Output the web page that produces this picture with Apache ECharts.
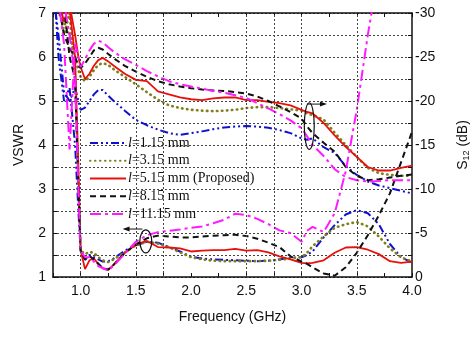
<!DOCTYPE html>
<html>
<head>
<meta charset="utf-8">
<script src="https://cdn.jsdelivr.net/npm/echarts@6/dist/echarts.min.js"></script>
<style>html,body{margin:0;padding:0;background:#fff;}#c{width:474px;height:345px;}</style>
</head>
<body>
<div id="c"></div>
<script>
// Frequency grid (GHz)
const freq = [0.75,0.8,0.85,0.9,0.95,0.98,1.0,1.04,1.08,1.12,1.16,1.2,1.25,1.3,1.4,1.5,1.6,1.7,1.8,1.9,2.0,2.1,2.2,2.3,2.4,2.5,2.6,2.7,2.8,2.9,3.0,3.05,3.1,3.2,3.3,3.4,3.5,3.6,3.7,3.8,3.9,4.0];

const names = ['l=1.15 mm','l=3.15 mm','l=5.15 mm (Proposed)','l=8.15 mm','l=11.15 mm'];

// VSWR (left axis)
const vswr115 = [8,6.0,5.0,5.3,4.0,2.5,1.6,1.39,1.5,1.45,1.4,1.35,1.36,1.42,1.6,1.72,1.8,1.78,1.68,1.58,1.46,1.42,1.4,1.39,1.38,1.37,1.36,1.37,1.4,1.44,1.45,1.5,1.58,1.9,2.18,2.42,2.52,2.45,2.2,1.75,1.45,1.33];
const vswr315 = [8,7.5,6.5,7.0,5.5,3.2,1.6,1.52,1.57,1.55,1.45,1.38,1.34,1.4,1.56,1.72,1.8,1.76,1.68,1.56,1.45,1.4,1.37,1.36,1.36,1.36,1.36,1.37,1.39,1.42,1.45,1.55,1.7,1.92,2.12,2.2,2.25,2.15,1.92,1.65,1.45,1.35];
const vswr515 = [8,7.5,7.3,7.1,6.0,3.5,1.6,1.18,1.38,1.42,1.3,1.2,1.16,1.28,1.55,1.74,1.82,1.68,1.67,1.65,1.58,1.6,1.61,1.61,1.64,1.6,1.61,1.56,1.47,1.4,1.32,1.31,1.32,1.38,1.55,1.67,1.68,1.62,1.52,1.36,1.32,1.35];
const vswr815 = [8,7.5,7.2,6.0,5.5,3.0,1.6,1.4,1.48,1.4,1.3,1.2,1.17,1.28,1.55,1.74,1.88,1.94,1.92,1.9,1.9,1.92,1.94,1.95,1.96,1.93,1.87,1.78,1.68,1.47,1.35,1.3,1.22,1.08,1.03,1.22,1.55,1.95,2.4,2.9,3.6,4.3];
const vswr1115 = [8,7.5,7.2,6.5,5.5,3.0,1.6,1.45,1.45,1.35,1.25,1.2,1.15,1.26,1.53,1.8,1.95,2.02,2.05,2.08,2.12,2.15,2.22,2.3,2.44,2.41,2.32,2.2,2.06,2.0,1.8,2.05,2.14,2.02,2.45,3.4,4.8,6.5,8.0,null,null,null];

// S12 in dB (right axis)
const s12_115 = [-32.5,-27.5,-21,-20,-21.5,-20,-19,-19.25,-20,-20.75,-21.25,-21.25,-20.6,-20,-18.9,-17.85,-17.25,-16.75,-16.35,-16.15,-16.35,-16.55,-16.8,-17,-17.1,-17.15,-17.1,-16.95,-16.7,-16.35,-15.75,-15.6,-15.75,-14.75,-14.1,-12.6,-11.6,-10.85,-10.4,-10.1,-9.8,-9.5];
const s12_315 = [-32.5,-30,-29,-27.5,-25,-23.5,-22.75,-22.25,-22.75,-23.5,-24.1,-24.3,-24.1,-23.6,-22.75,-21.9,-21,-20.15,-19.5,-19.2,-19,-18.9,-18.85,-18.9,-19,-19.2,-19.3,-19.3,-19.2,-19.05,-18.9,-18.6,-18.4,-17.9,-16.4,-15,-13.65,-12.4,-11.8,-11.6,-11.5,-11.5];
const s12_515 = [-32.5,-31.5,-29,-31,-27.5,-25,-23.85,-22.5,-23.1,-24,-24.65,-24.9,-24.5,-24,-23.1,-22.4,-22.25,-21.1,-20.75,-20.4,-20.2,-20.1,-20.3,-20.4,-20.4,-20.1,-20.1,-19.9,-19.75,-19.5,-19,-18.75,-18.6,-17.5,-16.1,-14.8,-13.65,-12.5,-12.1,-12.1,-12.4,-12.65];
const s12_815 = [-32.5,-31,-27.5,-26,-25,-24,-23.75,-24.25,-25,-25.75,-26.05,-25.85,-25.35,-24.85,-24,-23.35,-22.75,-22.25,-21.9,-21.65,-21.45,-21.3,-21.2,-21.15,-21,-20.85,-20.5,-20,-19.4,-18.75,-18,-17.1,-16.35,-15.25,-14.25,-12.5,-11.5,-11,-11.1,-11.3,-11.5,-11.65];
const s12_1115 = [-32.5,-31.5,-26.5,-14.5,-26.5,-25,-23.85,-24.75,-25.75,-26.5,-26.85,-26.65,-26.1,-25.6,-24.75,-24.1,-23.4,-22.8,-22.25,-21.9,-21.65,-21.4,-21.15,-20.95,-20.65,-20.35,-19.75,-19.15,-18.5,-17.8,-16.9,-16,-15,-13.75,-12.25,-11.35,-11,-10.85,-10.9,-11,-11,-11];

// Axis ticks
const xLabels = [1.0,1.5,2.0,2.5,3.0,3.5,4.0];
const vLabels = [1,2,3,4,5,6,7];
const sLabels = [0,-5,-10,-15,-20,-25,-30];
const vGridLines = [1.0,1.5,1.75,2.5,2.75,3.0,3.5];

const styles = [
  {color:'#1010d0', width:2, type:[8,3,2,3,2,3], cap:'butt'},
  {color:'#7f7f1c', width:2.6, type:[0.5,4.5], cap:'round'},
  {color:'#e8100c', width:1.8, type:'solid', cap:'butt'},
  {color:'#111111', width:2, type:[6,4], cap:'butt'},
  {color:'#ff1aff', width:2, type:[11,4,3,4], cap:'butt'}
];
const vswrSets = [vswr115, vswr315, vswr515, vswr815, vswr1115];
const s12Sets = [s12_115, s12_315, s12_515, s12_815, s12_1115];

const pair = arr => freq.map((f,i)=>[f, arr[i]]);
const series = [];
for (let k=0;k<5;k++){
  const ls = {color:styles[k].color, width:styles[k].width, type:styles[k].type, cap:styles[k].cap};
  series.push({name:names[k], type:'line', xAxisIndex:0, yAxisIndex:1, data:pair(s12Sets[k]), showSymbol:false, symbol:'none', clip:true, lineStyle:ls, itemStyle:{color:styles[k].color}, z:3});
  series.push({name:names[k], type:'line', xAxisIndex:0, yAxisIndex:0, data:pair(vswrSets[k]), showSymbol:false, symbol:'none', clip:true, lineStyle:ls, itemStyle:{color:styles[k].color}, z:3});
}
series.push({type:'line', xAxisIndex:0, yAxisIndex:0, data:[], silent:true,
  markLine:{silent:true, symbol:'none', label:{show:false}, animation:false,
    lineStyle:{color:'#444', width:1, type:[2,2]},
    data: vGridLines.map(v=>({xAxis:v}))}});

const axisFont = {fontFamily:'Liberation Sans, Arial, sans-serif', fontSize:14, color:'#111'};
const near = (a,b)=>Math.abs(a-b)<1e-6;
const serif = 'Liberation Serif, Times New Roman, serif';

const option = {
  animation:false,
  backgroundColor:'#fff',
  grid:{left:53, right:62, top:13, bottom:68, containLabel:false, outerBoundsMode:'none'},
  legend:{
    orient:'vertical', left:89, top:136, itemWidth:36, itemHeight:10, itemGap:3.75,
    padding:0,
    data:names,
    itemStyle:{opacity:0},
    formatter: n => '{i|' + n[0] + '}' + n.slice(1),
    textStyle:{fontFamily:serif, fontSize:14, lineHeight:14, color:'#111', padding:[0,0,0,-3],
      rich:{i:{fontStyle:'italic', fontFamily:serif, fontSize:14, lineHeight:14, color:'#111'}}}
  },
  xAxis:[
    {type:'value', position:'bottom', min:0.75, max:4.0, interval:0.25,
     name:'Frequency (GHz)', nameLocation:'middle', nameGap:33, nameTextStyle:axisFont,
     axisLine:{lineStyle:{color:'#111', width:1.5}},
     axisTick:{inside:true, length:4, lineStyle:{color:'#111'}},
     axisLabel:{...axisFont, margin:7, formatter: v => xLabels.some(t=>near(t,v)) ? v.toFixed(1) : ''},
     splitLine:{show:false}},
    {type:'value', position:'top', min:0.75, max:4.0, interval:0.25,
     axisLine:{show:true, lineStyle:{color:'#111', width:1.5}},
     axisTick:{inside:true, length:4, lineStyle:{color:'#111'}},
     axisLabel:{show:false}, splitLine:{show:false}}
  ],
  yAxis:[
    {type:'value', position:'left', min:1, max:7, interval:0.5,
     name:'VSWR', nameLocation:'middle', nameGap:27, nameRotate:90, nameTextStyle:axisFont,
     axisLine:{show:true, lineStyle:{color:'#111', width:1.5}},
     axisTick:{show:true, inside:true, length:4, lineStyle:{color:'#111'}},
     axisLabel:{...axisFont, margin:7, formatter: v => vLabels.some(t=>near(t,v)) ? String(v) : ''},
     splitLine:{show:true, lineStyle:{color:'#444', width:1, type:[2,2]}}},
    {type:'value', position:'right', min:-30, max:0, interval:2.5, inverse:true,
     name:'S{sub|12} (dB)', nameLocation:'middle', nameGap:44, nameRotate:90,
     nameTextStyle:{...axisFont, rich:{sub:{fontFamily:'Liberation Sans, Arial, sans-serif', fontSize:9, color:'#111', verticalAlign:'bottom', padding:[6,0,0,0]}}},
     axisLine:{show:true, lineStyle:{color:'#111', width:1.5}},
     axisTick:{show:true, inside:true, length:4, lineStyle:{color:'#111'}},
     axisLabel:{...axisFont, margin:3, formatter: v => sLabels.some(t=>near(t,v)) ? String(v) : ''},
     splitLine:{show:false}}
  ],
  series: series
};

const chart = echarts.init(document.getElementById('c'), null, {renderer:'canvas'});
chart.setOption(option);

// Annotations (ellipses and arrows) placed in data coordinates
const px = f => chart.convertToPixel({xAxisIndex:0}, f);
const py = v => chart.convertToPixel({yAxisIndex:0}, v);
function ellipseEl(fc, vc, df, dv){
  const cx = px(fc), cy = py(vc);
  return {type:'ellipse', shape:{cx:cx, cy:cy, rx:Math.abs(px(fc+df)-cx), ry:Math.abs(py(vc+dv)-cy)},
    style:{fill:'none', stroke:'#111', lineWidth:1.2}, z:10, silent:true};
}
function arrowEls(f1, f2, v){
  const x1 = px(f1), x2 = px(f2), y = py(v);
  const dir = Math.sign(x2-x1);
  return [
    {type:'line', shape:{x1:x1, y1:y, x2:x2 - dir*4, y2:y}, style:{stroke:'#111', lineWidth:1}, z:10, silent:true},
    {type:'polygon', shape:{points:[[x2,y],[x2-dir*7,y-2.5],[x2-dir*7,y+2.5]]}, style:{fill:'#111'}, z:10, silent:true}
  ];
}
chart.setOption({graphic:[
  ellipseEl(3.07, 4.43, 0.045, 0.53),
  ...arrowEls(3.05, 3.23, 4.93),
  ellipseEl(1.59, 1.81, 0.054, 0.26),
  ...arrowEls(1.56, 1.38, 2.09)
]});
</script>
</body>
</html>
